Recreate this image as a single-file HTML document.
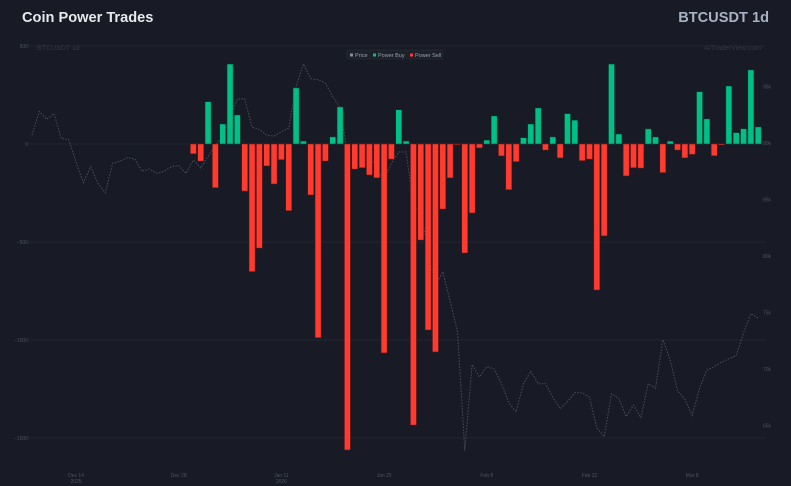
<!DOCTYPE html>
<html><head><meta charset="utf-8">
<style>
html,body{margin:0;padding:0;background:#181b25;}
body{width:791px;height:486px;overflow:hidden;font-family:"Liberation Sans",sans-serif;}
svg{display:block;}
</style></head>
<body>
<svg id="chart" width="791" height="486" viewBox="0 0 791 486" xmlns="http://www.w3.org/2000/svg">
<rect x="0" y="0" width="791" height="486" fill="#181b25"/>
<text x="22" y="22" fill="#e6e8ee" font-size="14.6" font-weight="bold">Coin Power Trades</text>
<text x="769" y="22" fill="#a9b1c4" font-size="14.6" font-weight="bold" text-anchor="end">BTCUSDT 1d</text>
<text x="37" y="50" fill="#343947" font-size="7">BTCUSDT 1d</text>
<text x="761" y="50" fill="#343947" font-size="7" text-anchor="end">AITraderView.com</text>
<g id="grid"></g>
<g id="price"></g>
<g id="bars"></g>
<g id="axes"></g>
<g>
<rect x="347" y="50" width="96" height="9" fill="#1c2029" stroke="#2a2e38" stroke-width="0.5"/>
<rect x="350" y="53.5" width="3" height="3" fill="#8a8f9c"/>
<text x="355" y="57" fill="#9aa0ad" font-size="5.5">Price</text>
<rect x="373" y="53.5" width="3" height="3" fill="#00c087"/>
<text x="378" y="57" fill="#9aa0ad" font-size="5.5">Power Buy</text>
<rect x="410" y="53.5" width="3" height="3" fill="#ff3b30"/>
<text x="415" y="57" fill="#9aa0ad" font-size="5.5">Power Sell</text>
</g>
</svg>
<script>
// Day offsets are relative to Dec 14 2025 (day 0)
const barStartDay = 16;
const powerBuy = [0,0,216,0,102,408,148,0,0,0,0,0,0,0,286,15,0,0,0,36,189,0,0,0,0,0,0,
 0,175,15,0,0,0,0,0,0,0,0,0,0,20,143,0,0,0,32,102,184,0,36,0,155,122,0,0,0,0,
 408,51,0,0,0,77,36,0,15,0,0,0,267,128,0,0,296,58,78,378,87];
const powerSell = [-50,-87,0,-223,0,0,0,-240,-651,-531,-112,-204,-80,-340,0,0,-260,-988,-87,0,0,-1561,-128,-121,-158,-173,-1066,
 -77,0,0,-1434,-490,-949,-1061,-332,-173,-4,-556,-352,-20,0,0,-61,-233,-90,0,0,0,-31,0,-71,0,0,-85,-77,-745,-469,
 0,0,-163,-121,-123,0,0,-146,0,-31,-71,-53,0,0,-60,-5,0,0,0,0,0];
const priceStartDay = -6;
const priceK = [90.7,92.8,92.1,92.6,90.4,90.3,88.3,86.5,87.9,86.4,85.6,88.2,88.4,88.7,88.6,87.5,87.7,87.3,87.5,87.9,88.0,87.3,88.5,87.8,88.8,89.8,
 90.7,92.3,93.9,93.9,91.4,91.2,90.7,90.6,91.0,91.3,95.0,97.0,95.7,95.6,95.3,94.1,93.1,89.1,89.7,89.6,89.1,87.6,86.7,88.2,89.2,89.2,84.5,83.9,
 80.4,77.4,78.6,76.0,73.3,62.8,70.4,69.3,70.2,70.0,68.7,67.0,66.2,68.7,69.8,68.7,68.7,67.5,66.5,67.1,67.9,67.9,67.5,64.8,64.0,
 67.8,67.4,65.8,66.8,65.7,68.7,68.3,72.6,70.8,68.1,67.3,65.9,68.3,69.9,70.2,70.6,70.9,71.2,73.2,74.9,74.5];
const leftTicks = [500,0,-500,-1000,-1500];
const leftTickLabels = ["500","0","−500","−1000","−1500"];
const rightTicks = [95,90,85,80,75,70,65];
const rightTickLabels = ["95k","90k","85k","80k","75k","70k","65k"];
const xTickDays = [0,14,28,42,56,70,84];
const xTickLabels = ["Dec 14","Dec 28","Jan 11","Jan 25","Feb 8","Feb 22","Mar 8"];
const xTickYears = ["2025","","2026","","","",""];

const NS="http://www.w3.org/2000/svg";
function xScale(d){return 76 + d*(102.7/14);}
function yL(v){return 144 - v*0.196;}
function yR(k){return 143 - (k-90)*11.3;}
function mk(tag, attrs, parent){const e=document.createElementNS(NS,tag);for(const k in attrs)e.setAttribute(k,attrs[k]);parent.appendChild(e);return e;}

const grid=document.getElementById('grid'), axes=document.getElementById('axes');
leftTicks.forEach((v,i)=>{
  const g=mk('line',{x1:28,x2:765,y1:yL(v),y2:yL(v),stroke:'#252935','stroke-width':0.8},grid);
  
  
  const t=mk('text',{x:28,y:yL(v)+2,fill:'#4c5262','font-size':5,'text-anchor':'end'},axes);
  t.textContent=leftTickLabels[i];
  
  
});
rightTicks.forEach((k,i)=>{
  const t=mk('text',{x:763,y:yR(k)+2,fill:'#4c5262','font-size':5},axes);
  t.textContent=rightTickLabels[i];
  
  
});
xTickDays.forEach((d,i)=>{
  const t=mk('text',{x:xScale(d),y:477,fill:'#4c5262','font-size':5,'text-anchor':'middle'},axes);
  t.textContent=xTickLabels[i];
  
  
  if(xTickYears[i]){
    const y=mk('text',{x:xScale(d),y:483,fill:'#4c5262','font-size':5,'text-anchor':'middle'},axes);
    y.textContent=xTickYears[i];
    
    
  }
});

const pts=priceK.map((k,i)=>xScale(priceStartDay+i).toFixed(1)+','+yR(k).toFixed(1)).join(' ');
const pl=mk('polyline',{points:pts,fill:'none',stroke:'#4a4f5c','stroke-width':1,'stroke-dasharray':'1.5,1.5'},document.getElementById('price'));



const bars=document.getElementById('bars');
powerBuy.forEach((v,i)=>{
  if(v<=0)return;
  const x=xScale(barStartDay+i)-3;
  const r=mk('rect',{x:x,y:yL(v),width:6,height:yL(0)-yL(v),fill:'#00c087',stroke:'#0b3d2e','stroke-width':0.5},bars);
  
  
});
powerSell.forEach((v,i)=>{
  if(v>=0)return;
  const x=xScale(barStartDay+i)-3;
  const r=mk('rect',{x:x,y:yL(0),width:6,height:yL(v)-yL(0),fill:'#ff3b30',stroke:'#5a1a18','stroke-width':0.5},bars);
  
  
});
</script>
</body></html>
